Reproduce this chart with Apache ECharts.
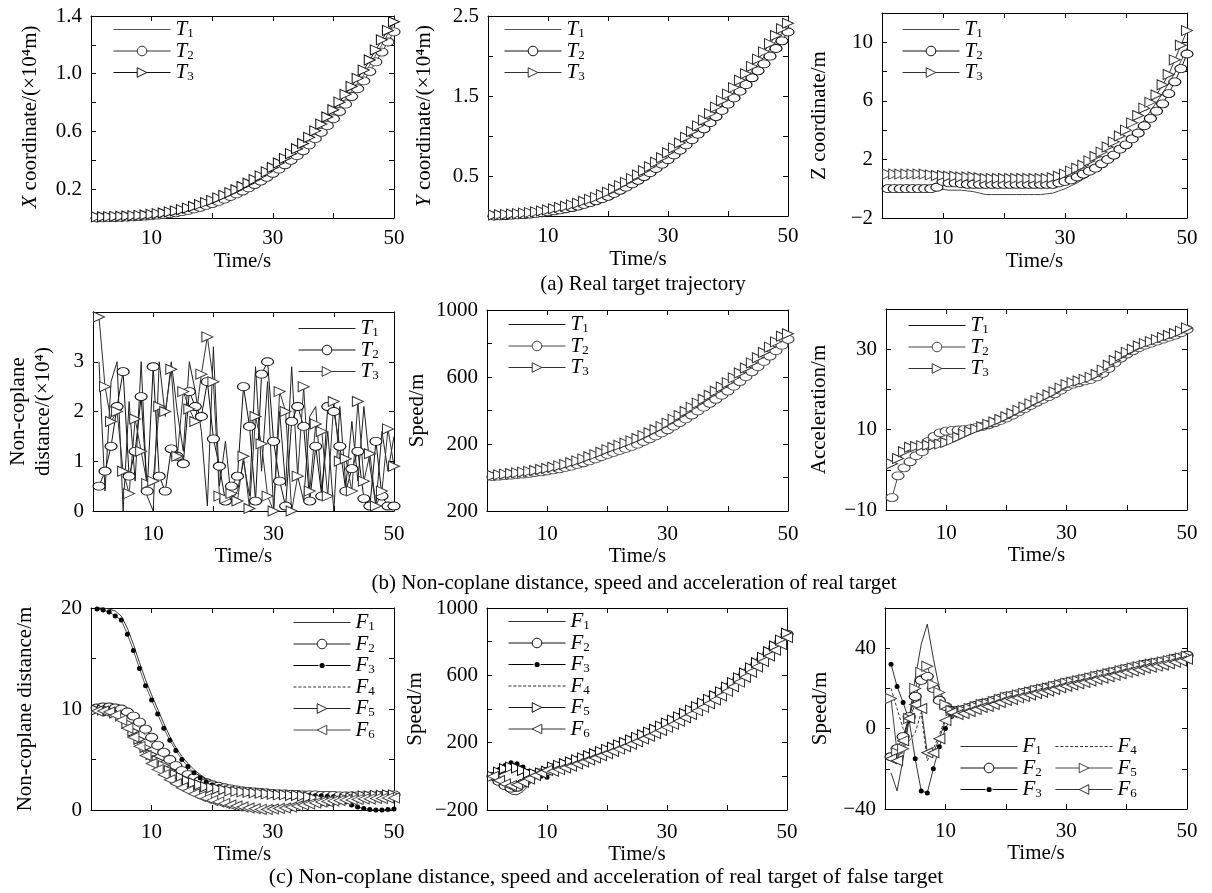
<!DOCTYPE html>
<html><head><meta charset="utf-8">
<script src="https://cdn.jsdelivr.net/npm/echarts@6/dist/echarts.min.js"></script>
<style>html,body{margin:0;padding:0;background:#fff}#c{width:1212px;height:893px}</style>
</head><body><div id="c"></div><script>
const FONT = '"Liberation Serif","Times New Roman",serif';
const time = [1,2,3,4,5,6,7,8,9,10,11,12,13,14,15,16,17,18,19,20,21,22,23,24,25,26,27,28,29,30,31,32,33,34,35,36,37,38,39,40,41,42,43,44,45,46,47,48,49,50];
const xTickLabels = [10,30,50];

// (a) X coordinate (x10^4 m)
const a1_T1 = [0.003,0.004,0.005,0.006,0.008,0.009,0.011,0.013,0.016,0.020,0.024,0.029,0.035,0.042,0.050,0.060,0.071,0.083,0.096,0.110,0.126,0.143,0.161,0.180,0.200,0.223,0.247,0.272,0.300,0.330,0.360,0.391,0.423,0.456,0.490,0.533,0.577,0.623,0.671,0.720,0.772,0.825,0.880,0.935,0.990,1.060,1.130,1.200,1.275,1.350];
const a1_T2 = [0.000,0.001,0.002,0.003,0.004,0.006,0.008,0.010,0.013,0.016,0.020,0.025,0.030,0.036,0.044,0.053,0.063,0.074,0.087,0.100,0.115,0.131,0.149,0.167,0.187,0.209,0.232,0.256,0.282,0.310,0.339,0.369,0.400,0.432,0.466,0.507,0.550,0.594,0.640,0.688,0.738,0.789,0.842,0.896,0.950,1.015,1.082,1.150,1.220,1.290];
const a1_T3 = [0.008,0.009,0.010,0.011,0.012,0.014,0.016,0.018,0.021,0.025,0.030,0.035,0.042,0.049,0.058,0.068,0.080,0.093,0.107,0.122,0.139,0.157,0.176,0.196,0.218,0.241,0.266,0.292,0.320,0.350,0.381,0.413,0.446,0.480,0.516,0.559,0.604,0.651,0.700,0.750,0.803,0.857,0.912,0.968,1.025,1.095,1.165,1.235,1.300,1.360];
// Y coordinate
const a2_T1 = [0.000,0.005,0.010,0.015,0.020,0.025,0.030,0.040,0.050,0.060,0.075,0.090,0.105,0.120,0.140,0.163,0.186,0.210,0.240,0.270,0.310,0.350,0.390,0.435,0.480,0.530,0.580,0.635,0.690,0.750,0.810,0.870,0.940,1.010,1.080,1.150,1.230,1.310,1.390,1.470,1.550,1.640,1.720,1.810,1.900,1.990,2.090,2.190,2.290,2.400];
const a2_T2 = [0.000,0.002,0.006,0.010,0.014,0.018,0.024,0.032,0.041,0.050,0.063,0.077,0.091,0.106,0.124,0.145,0.167,0.190,0.217,0.246,0.283,0.321,0.360,0.402,0.446,0.493,0.542,0.594,0.648,0.705,0.763,0.822,0.888,0.955,1.023,1.090,1.166,1.243,1.320,1.398,1.476,1.560,1.642,1.728,1.815,1.902,1.998,2.094,2.190,2.300];
const a2_T3 = [0.012,0.016,0.020,0.025,0.030,0.036,0.043,0.052,0.063,0.075,0.090,0.106,0.122,0.139,0.160,0.184,0.208,0.233,0.265,0.297,0.338,0.380,0.421,0.467,0.513,0.565,0.616,0.672,0.728,0.790,0.851,0.913,0.984,1.056,1.127,1.198,1.280,1.361,1.442,1.524,1.605,1.697,1.778,1.870,1.961,2.052,2.154,2.256,2.340,2.410];
// Z coordinate
const a3_T1 = [0,0,0,0,0,0,0,0,-0.05,-0.05,-0.1,-0.1,-0.1,-0.15,-0.2,-0.3,-0.4,-0.4,-0.4,-0.4,-0.4,-0.4,-0.4,-0.4,-0.4,-0.4,-0.35,-0.3,-0.15,0.0,0.2,0.4,0.65,0.9,1.2,1.5,1.9,2.3,2.7,3.2,3.7,4.2,4.7,5.3,5.9,6.5,7.2,7.9,8.7,9.6];
const a3_T2 = [0,0,0,0,0,0,0,0,0.1,0.5,0.4,0.4,0.35,0.3,0.3,0.3,0.3,0.3,0.3,0.3,0.3,0.3,0.3,0.3,0.3,0.3,0.3,0.3,0.4,0.5,0.6,0.8,1.0,1.2,1.4,1.7,2.0,2.3,2.7,3.0,3.4,3.8,4.3,4.8,5.3,5.8,6.5,7.3,8.2,9.2];
const a3_T3 = [1.0,1.0,1.0,1.0,1.0,1.0,1.0,0.95,0.9,0.9,0.85,0.85,0.8,0.8,0.8,0.75,0.7,0.7,0.7,0.7,0.7,0.7,0.7,0.7,0.7,0.7,0.7,0.75,0.85,1.0,1.2,1.4,1.6,1.9,2.2,2.5,2.85,3.2,3.6,4.0,4.5,5.0,5.5,5.9,6.4,7.1,7.8,8.8,9.8,10.8];

// (b) Non-coplane distance
const b1_T1 = [3.0,0.4,2.6,3.0,0.0,2.2,0.6,3.0,0.3,0.0,3.0,1.9,3.0,2.0,1.2,3.0,2.4,1.6,0.1,3.3,0.5,1.4,0.2,0.4,1.0,0.3,2.9,0.8,2.6,0.0,2.0,0.5,2.9,0.7,0.2,1.9,2.1,0.4,1.6,0.0,2.1,0.5,1.8,0.6,2.1,0.9,0.1,1.6,0.8,1.5];
const b1_T2 = [0.5,0.8,1.3,2.1,2.8,0.7,1.2,2.3,0.4,2.9,0.7,0.4,1.25,1.1,0.95,2.4,2.1,1.9,2.6,1.45,0.9,0.2,0.5,0.7,2.5,1.7,0.2,2.75,3.0,1.4,0.6,0.1,1.8,2.1,1.7,0.2,1.3,0.3,2.1,2.0,1.3,0.4,0.85,1.2,0.25,0.1,1.4,0.3,0.1,0.1];
const b1_T3 = [3.9,2.5,1.8,2.0,0.8,0.35,1.85,1.2,0.55,0.6,2.1,2.0,2.85,1.1,2.4,2.05,1.8,2.75,3.5,2.6,0.3,0.25,0.35,0.2,1.1,0.05,1.9,1.35,0.3,0.0,2.4,2.0,0.0,0.7,2.5,0.4,1.75,1.6,0.3,2.2,1.0,1.05,0.4,2.2,0.6,1.15,0.1,0.4,1.65,0.9];
// Speed
const b2_T1 = [8,12,15,18,22,26,30,35,40,45,52,60,68,77,87,98,110,122,136,150,162,174,186,199,212,228,245,262,280,300,322,344,367,391,415,438,461,485,510,535,564,593,622,652,683,714,746,778,811,845];
const b2_T2 = [5,8,11,14,18,21,25,30,34,39,45,52,60,68,78,88,99,111,124,138,150,162,174,186,199,215,231,248,266,285,306,328,350,373,397,420,443,467,491,516,545,573,602,631,662,693,725,757,790,825];
const b2_T3 = [12,16,20,24,28,32,37,42,48,54,61,69,78,88,99,111,124,137,151,166,179,192,205,219,233,250,267,285,304,325,347,370,394,419,444,467,491,515,540,566,595,624,654,684,715,746,778,810,843,858];
// Acceleration
const b3_T1 = [0.8,2.5,4.2,5.3,5.6,5.8,6.0,6.1,6.3,6.6,7.1,7.8,8.5,9.2,9.8,10.4,11.0,11.6,12.2,12.9,13.7,14.5,15.3,16.1,16.9,17.6,18.3,19.1,20.0,20.9,21.4,21.8,22.2,22.7,23.4,24.5,25.7,26.9,28.0,28.9,29.7,30.5,31.1,31.6,32.1,32.6,33.1,33.6,34.2,35.0];
const b3_T2 = [-6.9,-1.5,0.5,2.0,3.5,4.5,7.0,8.3,9.2,9.6,9.8,9.9,10.0,10.2,10.5,10.8,11.2,11.7,12.3,12.9,13.6,14.4,15.2,16.0,16.8,17.5,18.2,18.9,19.8,20.7,21.3,21.7,22.1,22.5,23.1,24.0,25.2,26.6,27.8,28.8,29.6,30.4,31.0,31.5,32.0,32.5,33.0,33.5,34.1,34.9];
const b3_T3 = [1.5,2.8,4.5,5.6,5.8,6.0,6.1,6.2,6.4,6.8,7.4,8.1,8.8,9.5,10.1,10.7,11.3,11.9,12.5,13.2,14.0,14.8,15.6,16.4,17.2,17.9,18.6,19.4,20.3,21.2,21.7,22.1,22.5,23.0,23.7,24.8,26.0,27.2,28.3,29.2,30.0,30.8,31.4,31.9,32.4,32.9,33.4,33.9,34.5,35.3];

// (c) Non-coplane distance of false targets
const c1_F1 = [20.0,20.0,19.9,19.7,19.2,18.0,16.4,14.6,12.9,11.4,10.0,8.6,7.3,6.2,5.3,4.6,4.0,3.5,3.1,2.8,2.5,2.3,2.1,2.0,1.9,1.85,1.8,1.75,1.7,1.7,1.65,1.6,1.6,1.55,1.55,1.5,1.5,1.45,1.45,1.4,1.4,1.4,1.35,1.35,1.3,1.3,1.3,1.3,1.3,1.3];
const c1_F2 = [10.1,10.2,10.2,10.1,10.0,9.7,9.3,8.7,8.0,7.2,6.4,5.7,5.0,4.4,3.9,3.5,3.2,2.9,2.7,2.5,2.35,2.2,2.1,2.0,1.9,1.85,1.8,1.75,1.7,1.65,1.6,1.6,1.55,1.55,1.5,1.5,1.5,1.45,1.45,1.45,1.4,1.4,1.4,1.4,1.4,1.4,1.4,1.45,1.45,1.5];
const c1_F3 = [19.9,19.8,19.6,19.2,18.8,17.4,15.8,14.0,12.3,10.9,9.5,8.1,6.9,5.9,5.0,4.3,3.7,3.2,2.8,2.5,2.3,2.1,2.0,1.9,1.8,1.75,1.7,1.65,1.6,1.6,1.55,1.55,1.5,1.5,1.45,1.45,1.4,1.4,1.35,1.3,1.1,0.8,0.5,0.3,0.15,0.05,0.0,0.0,0.05,0.1];
const c1_F4 = [10.0,10.0,10.0,9.9,9.7,9.3,8.8,8.1,7.4,6.6,5.9,5.2,4.6,4.1,3.7,3.3,3.0,2.8,2.6,2.4,2.25,2.1,2.0,1.9,1.85,1.8,1.75,1.7,1.65,1.6,1.6,1.55,1.55,1.5,1.5,1.5,1.45,1.45,1.4,1.4,1.4,1.35,1.35,1.35,1.3,1.3,1.3,1.3,1.3,1.3];
const c1_F5 = [9.9,9.9,9.8,9.6,9.3,8.6,7.8,7.0,6.2,5.5,4.9,4.4,3.9,3.5,3.2,2.9,2.7,2.5,2.3,2.2,2.1,2.0,1.9,1.85,1.8,1.75,1.7,1.65,1.6,1.55,1.5,1.5,1.45,1.45,1.4,1.3,1.1,1.0,0.9,0.9,1.0,1.1,1.2,1.3,1.4,1.4,1.45,1.45,1.5,1.5];
const c1_F6 = [9.8,9.8,9.7,9.4,8.9,8.1,7.2,6.3,5.4,4.6,4.0,3.5,3.0,2.6,2.2,1.9,1.6,1.35,1.15,0.95,0.8,0.65,0.5,0.4,0.3,0.2,0.12,0.06,0.05,0.1,0.15,0.2,0.3,0.4,0.5,0.6,0.7,0.8,0.85,0.9,0.95,1.0,1.0,1.05,1.1,1.1,1.15,1.15,1.2,1.2];
// Speed of false targets
const c2_F1 = [0,-40,-80,-105,-110,-90,-50,-10,10,25,40,50,60,70,83,95,107,119,132,145,158,172,186,201,216,232,248,265,283,301,319,338,358,378,399,420,442,464,487,515,542,570,599,629,660,692,725,759,794,835];
const c2_F2 = [0,-30,-55,-70,-65,-40,-15,10,20,30,50,60,70,80,93,105,117,129,142,155,168,182,196,211,226,242,258,275,293,311,329,348,368,388,409,430,452,474,497,525,552,580,609,639,670,702,735,769,804,845];
const c2_F3 = [10,40,65,80,75,55,30,10,0,-5,35,45,55,65,78,90,102,114,127,140,153,167,181,196,211,227,243,260,278,296,314,333,353,373,394,415,437,459,482,510,537,565,594,624,655,687,720,754,789,830];
const c2_F4 = [5,30,50,60,55,40,20,10,15,25,45,55,65,75,88,100,112,124,137,150,163,177,191,206,221,237,253,270,288,306,324,343,363,383,404,425,447,469,492,520,547,575,604,634,665,697,730,764,799,840];
const c2_F5 = [0,25,45,55,50,35,20,15,20,30,55,65,75,85,98,110,122,134,147,160,173,187,201,216,231,247,263,280,298,316,334,353,373,393,414,435,457,479,502,530,557,585,614,644,675,707,740,774,809,850];
const c2_F6 = [0,-25,-45,-55,-50,-35,-15,5,20,35,30,40,50,60,73,85,97,109,122,135,148,162,176,191,206,222,238,255,273,291,309,328,348,368,389,410,432,454,477,505,532,560,589,619,650,682,715,749,784,825];
// Acceleration of false targets (labelled Speed/m)
const c3_F1 = [-22,-31,-15,5,25,42,52,35,20,12,9,7,7,8,9,10,10.5,11.5,12.5,13.5,14,14.8,15.5,16.2,17,17.6,18.2,19,19.8,20.6,21.2,21.8,22.5,23.2,24,24.6,25.3,26,26.8,27.5,28.2,28.8,29.5,30,30.6,31.2,31.8,32.5,33.2,34];
const c3_F2 = [-14,-10,-4,6,16,24,26,20,14,11,9,9,9.5,10.5,11.5,12.5,13,14,15,16,16.5,17.3,18,18.7,19.5,20.1,20.7,21.5,22.3,23.1,23.7,24.3,25,25.7,26.5,27.1,27.8,28.5,29.3,30,30.7,31.3,32,32.5,33.1,33.7,34.3,35,35.7,36.5];
const c3_F3 = [32,21,13,4,-15,-31,-32,-20,-9,0,6,8,8,9,10,11,11.5,12.5,13.5,14.5,15,15.8,16.5,17.2,18,18.6,19.2,20,20.8,21.6,22.2,22.8,23.5,24.2,25,25.6,26.3,27,27.8,28.5,29.2,29.8,30.5,31,31.6,32.2,32.8,33.5,34.2,35];
const c3_F4 = [20,10,0,-6,-2,8,-16,-10,-3,5,8,7,8.5,9.5,10.5,11.5,12,13,14,15,15.5,16.3,17,17.7,18.5,19.1,19.7,20.5,21.3,22.1,22.7,23.3,24,24.7,25.5,26.1,26.8,27.5,28.3,29,29.7,30.3,31,31.5,32.1,32.7,33.3,34,34.7,35.5];
const c3_F5 = [15,-12,-10,5,20,28,31,22,18,12,9,8,9,10,11,12,12.5,13.5,14.5,15.5,16,16.8,17.5,18.2,19,19.6,20.2,21,21.8,22.6,23.2,23.8,24.5,25.2,26,26.6,27.3,28,28.8,29.5,30.2,30.8,31.5,32,32.6,33.2,33.8,34.5,35.2,36];
const c3_F6 = [-15,-16,-6,5,12,10,-12,-12,-5,4,8,7,7.5,8.5,9.5,10.5,11,12,13,14,14.5,15.3,16,16.7,17.5,18.1,18.7,19.5,20.3,21.1,21.7,22.3,23,23.7,24.5,25.1,25.8,26.5,27.3,28,28.7,29.3,30,30.5,31.1,31.7,32.3,33,33.7,34.5];

const captions = ['(a) Real target trajectory','(b) Non-coplane distance, speed and acceleration of real target','(c) Non-coplane distance, speed and acceleration of real target of false target'];

const minus = v => v < 0 ? '\u2212' + (-v) : String(v);
const ELL = 'path://M0,5 A7,5 0 1,1 14,5 A7,5 0 1,1 0,5 Z';
const TRI_R = 'path://M0,0 L12,6 L0,12 Z';
const TRI_L = 'path://M12,0 L0,6 L12,12 Z';
// legend icons (shapes only)
const ICON_LINE = 'path://M0,0h57v1.2h-57z';
let dashPath = 'path://';
for (let x = 0; x < 57; x += 5) dashPath += 'M' + x + ',0h3v1.2h-3z ';
const ICON_DASH = dashPath.trim();
const ICON_DOT = 'path://M0,2h25v1.2h-25z M32,2h25v1.2h-25z M26,2.6a2.6,2.6 0 1,1 5.2,0a2.6,2.6 0 1,1 -5.2,0z';

const FS = 21;
const panels = [
 {id:'a1', rect:[91,16,303,202], y:[0,1.4,0.2], ylab:[0.2,0.6,1.0,1.4], fmt:v=>v.toFixed(1), yname:'{i|X} coordinate/(×10⁴m)', ygap:48, xm:10, xg:33,
  s:[['T1',a1_T1,'plain','#555'],['T2',a1_T2,'ell','#333'],['T3',a1_T3,'triR','#111']], leg:[[113,19,['T1','T2','T3']]]},
 {id:'a2', rect:[488,16,300,200], y:[0,2.5,0.5], ylab:[0.5,1.5,2.5], fmt:v=>v.toFixed(1), yname:'{i|Y} coordinate/(×10⁴m)', ygap:51, xm:10, xg:33,
  s:[['T1',a2_T1,'plain','#555'],['T2',a2_T2,'ell','#111'],['T3',a2_T3,'triR','#333']], leg:[[504,19,['T1','T2','T3']]]},
 {id:'a3', rect:[882,13,305,205], y:[-2,12,2], ylab:[-2,2,6,10], fmt:minus, yname:'Z coordinate/m', ygap:50, xm:10, xg:33,
  s:[['T1',a3_T1,'plain','#444'],['T2',a3_T2,'ell','#111'],['T3',a3_T3,'triR','#333']], leg:[[902,19,['T1','T2','T3']]]},
 {id:'b1', rect:[93,312,301,199], y:[0,4,1], ylab:[0,1,2,3], fmt:minus, yname:'Non-coplane\ndistance/(×10⁴)', ygap:37, xm:13, xg:34,
  s:[['T1',b1_T1,'plain','#222'],['T2',b1_T2,'ell','#111'],['T3',b1_T3,'triR','#333']], leg:[[298,318,['T1','T2','T3']]]},
 {id:'b2', rect:[487,310,301,201], y:[-200,1000,200], ylab:[-200,200,600,1000], fmt:v=>String(Math.abs(v)), yname:'Speed/m', ygap:57, xm:13, xg:34,
  s:[['T1',b2_T1,'plain','#111'],['T2',b2_T2,'ell','#444'],['T3',b2_T3,'triR','#333']], leg:[[508,314,['T1','T2','T3']]]},
 {id:'b3', rect:[886,309,301,201], y:[-10,40,10], ylab:[-10,10,30], fmt:minus, yname:'Acceleration/m', ygap:54, xm:13, xg:34,
  s:[['T1',b3_T1,'plain','#111'],['T2',b3_T2,'ell','#444'],['T3',b3_T3,'triR','#333']], leg:[[908,315,['T1','T2','T3']]]},
 {id:'c1', rect:[91,608,303,202], y:[0,20,5], ylab:[0,10,20], fmt:minus, yname:'Non-coplane distance/m', ygap:53, xm:12, xg:30,
  s:[['F1',c1_F1,'plain','#333'],['F2',c1_F2,'ell','#222'],['F3',c1_F3,'dot','#555'],['F4',c1_F4,'dash','#333'],['F5',c1_F5,'triR','#222'],['F6',c1_F6,'triL','#444']],
  leg:[[293,612,['F1','F2','F3','F4','F5','F6']]]},
 {id:'c2', rect:[487,608,300,202], y:[-200,1000,200], ylab:[-200,200,600,1000], fmt:minus, yname:'Speed/m', ygap:59, xm:12, xg:30,
  s:[['F1',c2_F1,'plain','#333'],['F2',c2_F2,'ell','#111'],['F3',c2_F3,'dot','#333'],['F4',c2_F4,'dash','#222'],['F5',c2_F5,'triR','#111'],['F6',c2_F6,'triL','#333']],
  leg:[[508,611,['F1','F2','F3','F4','F5','F6']]]},
 {id:'c3', rect:[885,608,302,201], y:[-40,60,20], ylab:[-40,0,40], fmt:minus, yname:'Speed/m', ygap:52, xm:12, xg:30,
  s:[['F1',c3_F1,'plain','#333'],['F2',c3_F2,'ell','#111'],['F3',c3_F3,'dot','#333'],['F4',c3_F4,'dash','#333'],['F5',c3_F5,'triR','#444'],['F6',c3_F6,'triL','#333']],
  leg:[[960,736,['F1','F2','F3']],[1055,736,['F4','F5','F6']]]}
];

function styleFor(kind, color) {
  const line = {color: color, width: 1};
  switch (kind) {
    case 'plain': return {symbol:'none', lineStyle:line, itemStyle:{color:color}};
    case 'dash': return {symbol:'none', lineStyle:{color:color, width:1, type:[3,2]}, itemStyle:{color:color}};
    case 'ell': return {symbol:ELL, symbolSize:[12,8], symbolKeepAspect:false, lineStyle:line, itemStyle:{color:'#fff', borderColor:color, borderWidth:1}};
    case 'triR': return {symbol:TRI_R, symbolSize:[11,10], lineStyle:line, itemStyle:{color:'#fff', borderColor:color, borderWidth:1}};
    case 'triL': return {symbol:TRI_L, symbolSize:[11,10], lineStyle:line, itemStyle:{color:'#fff', borderColor:color, borderWidth:1}};
    case 'dot': return {symbol:'circle', symbolSize:5, lineStyle:line, itemStyle:{color:'#000'}};
  }
}
const iconFor = {plain:ICON_LINE, dash:ICON_DASH, dot:ICON_DOT};

const txt = {color:'#000', fontSize:FS, fontFamily:FONT};
const option = {animation:false, backgroundColor:'#fff', textStyle:{fontFamily:FONT}, grid:[], xAxis:[], yAxis:[], series:[], legend:[], graphic:[]};
const rng = (a,b,s) => { const r=[]; for (let v=a; v<=b+1e-9; v+=s) r.push(Math.round(v*1000)/1000); return r; };

panels.forEach((p, i) => {
  option.grid.push({left:p.rect[0], top:p.rect[1], width:p.rect[2], height:p.rect[3], show:false});
  const axLine = {onZero:false, lineStyle:{color:'#000', width:1}};
  const tick = (vals) => ({inside:true, length:5, customValues:vals, lineStyle:{color:'#000', width:1}});
  const xt = rng(0,50,10), yt = rng(p.y[0], p.y[1], p.y[2]);
  option.xAxis.push({gridIndex:i, type:'value', position:'bottom', min:0, max:50, interval:10,
    axisLine:axLine, axisTick:tick(xt), splitLine:{show:false},
    axisLabel:Object.assign({customValues:xTickLabels, margin:p.xm}, txt),
    name:'Time/s', nameLocation:'middle', nameGap:p.xg, nameTextStyle:txt});
  option.xAxis.push({gridIndex:i, type:'value', position:'top', min:0, max:50, interval:10,
    axisLine:axLine, axisTick:tick(xt), splitLine:{show:false}, axisLabel:{show:false}});
  option.yAxis.push({gridIndex:i, type:'value', position:'left', min:p.y[0], max:p.y[1], interval:p.y[2],
    axisLine:axLine, axisTick:tick(yt), splitLine:{show:false},
    axisLabel:Object.assign({customValues:p.ylab, formatter:p.fmt, margin:9}, txt),
    name:p.yname, nameLocation:'middle', nameGap:p.ygap, nameRotate:90,
    nameTextStyle:Object.assign({lineHeight:25, rich:{i:{fontStyle:'italic', fontSize:FS, fontFamily:FONT, color:'#000'}}}, txt)});
  option.yAxis.push({gridIndex:i, type:'value', position:'right', min:p.y[0], max:p.y[1], interval:p.y[2],
    axisLine:axLine, axisTick:tick(yt), splitLine:{show:false}, axisLabel:{show:false}});
  const kinds = {};
  p.s.forEach(([nm, arr, kind, color]) => {
    kinds[nm] = kind;
    option.series.push(Object.assign({type:'line', name:p.id+'_'+nm, xAxisIndex:2*i, yAxisIndex:2*i,
      data:time.map((t,k)=>[t, arr[k]]), showSymbol:kind!=='plain' && kind!=='dash', clip:false,
      emphasis:{disabled:true}, silent:true}, styleFor(kind, color)));
  });
  p.leg.forEach(([l, t, names]) => {
    option.legend.push({left:l, top:t, orient:'vertical', itemWidth:57, itemHeight:12, itemGap:0, padding:0,
      selectedMode:false, lineStyle:{width:1}, itemStyle:{borderWidth:1},
      data:names.map(n => iconFor[kinds[n]] ? {name:p.id+'_'+n, icon:iconFor[kinds[n]]} : {name:p.id+'_'+n}),
      formatter: n => { const k = n.split('_')[1]; return '{i|' + k[0] + '}{s|' + k.slice(1) + '}'; },
      textStyle:{color:'#000', fontSize:FS, fontFamily:FONT,
        rich:{i:{fontStyle:'italic', fontSize:FS, fontFamily:FONT, color:'#000', lineHeight:22},
              s:{fontSize:13, fontFamily:FONT, color:'#000', verticalAlign:'bottom', lineHeight:13}}}});
  });
});

const capPos = [[643,284,21],[634,583,21],[606,877,22]];
captions.forEach((c, k) => {
  option.graphic.push({type:'text', x:capPos[k][0], y:capPos[k][1], silent:true,
    style:{text:c, fontSize:capPos[k][2], fontFamily:FONT, fill:'#000', align:'center', verticalAlign:'middle'}});
});

const chart = echarts.init(document.getElementById('c'), null, {renderer:'canvas'});
chart.setOption(option);
</script></body></html>
